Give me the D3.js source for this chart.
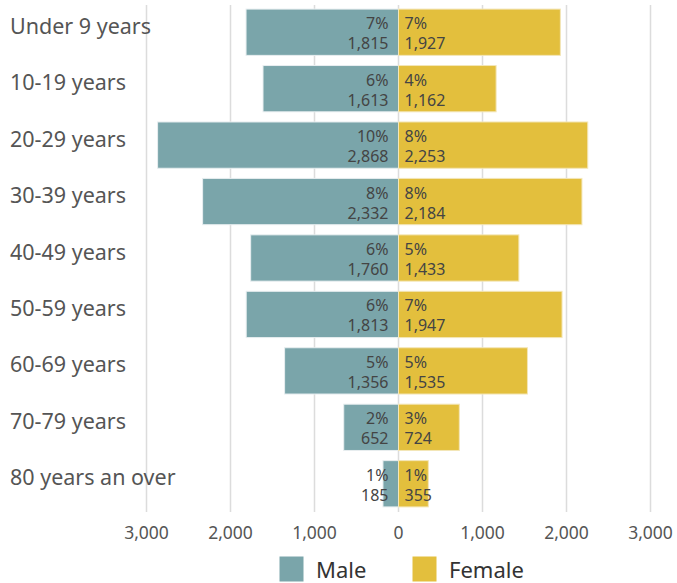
<!DOCTYPE html>
<html>
<head>
<meta charset="utf-8">
<script src="https://cdn.jsdelivr.net/npm/d3@7"></script>
<style>
  body { margin: 0; background: #fff; }
  svg { font-family: "Noto Sans", sans-serif; }
</style>
</head>
<body>
<svg id="vis" width="677" height="583"></svg>
<script>
var ageGroups = ["Under 9 years", "10-19 years", "20-29 years", "30-39 years", "40-49 years",
                 "50-59 years", "60-69 years", "70-79 years", "80 years an over"];
var male   = [1815, 1613, 2868, 2332, 1760, 1813, 1356, 652, 185];
var female = [1927, 1162, 2253, 2184, 1433, 1947, 1535, 724, 355];
var tickValues = [-3000, -2000, -1000, 0, 1000, 2000, 3000];
var seriesNames = ["Male", "Female"];
var colors = ["#7aa5aa", "#e3bf3d"];

var total = d3.sum(male) + d3.sum(female);
var fmt = d3.format(",");

var svg = d3.select("#vis");

var x = d3.scaleLinear()
    .domain([-3000, 3000])
    .range([146.5, 650.5]);

var y = d3.scaleBand()
    .domain(ageGroups)
    .range([4, 512])
    .paddingInner(0.18)
    .paddingOuter(0.09);

// gridlines
svg.append("g").selectAll("line")
    .data(tickValues)
    .enter().append("line")
    .attr("x1", function(d) {return x(d);})
    .attr("x2", function(d) {return x(d);})
    .attr("y1", 5)
    .attr("y2", 512)
    .attr("stroke", "#dcdcdc")
    .attr("stroke-width", 1.5);

// axis labels
svg.append("g").selectAll("text")
    .data(tickValues)
    .enter().append("text")
    .text(function(d) {return fmt(Math.abs(d));})
    .attr("x", function(d) {return x(d);})
    .attr("y", 539)
    .attr("text-anchor", "middle")
    .attr("font-size", 17.5)
    .attr("fill", "#555");

// bars
var rows = ageGroups.map(function(g, i) {return {group: g, m: male[i], f: female[i]};});

svg.append("g").selectAll("rect")
    .data(rows)
    .enter().append("rect")
    .attr("x", function(d) {return x(-d.m);})
    .attr("y", function(d) {return y(d.group);})
    .attr("width", function(d) {return x(0) - x(-d.m);})
    .attr("height", y.bandwidth())
    .attr("fill", colors[0])
    .attr("stroke", "#e8eef0")
    .attr("stroke-width", 1);

svg.append("g").selectAll("rect")
    .data(rows)
    .enter().append("rect")
    .attr("x", x(0))
    .attr("y", function(d) {return y(d.group);})
    .attr("width", function(d) {return x(d.f) - x(0);})
    .attr("height", y.bandwidth())
    .attr("fill", colors[1])
    .attr("stroke", "#f3e6b8")
    .attr("stroke-width", 1);

// category labels
svg.append("g").selectAll("text")
    .data(rows)
    .enter().append("text")
    .text(function(d) {return d.group;})
    .attr("x", 10)
    .attr("y", function(d) {return y(d.group) + y.bandwidth() / 2 - 6;})
    .attr("dy", ".35em")
    .attr("font-size", 21.5)
    .attr("fill", "#555");

// value labels
function addLabels(key, xPos, anchor) {
    var g = svg.append("g");
    g.selectAll(".pct")
        .data(rows)
        .enter().append("text")
        .text(function(d) {return Math.round(d[key] / total * 100) + "%";})
        .attr("x", xPos)
        .attr("y", function(d) {return y(d.group) + y.bandwidth() / 2 - 3;})
        .attr("text-anchor", anchor)
        .attr("font-size", 16)
        .attr("fill", "#444");
    g.selectAll(".val")
        .data(rows)
        .enter().append("text")
        .text(function(d) {return fmt(d[key]);})
        .attr("x", xPos)
        .attr("y", function(d) {return y(d.group) + y.bandwidth() / 2 + 17;})
        .attr("text-anchor", anchor)
        .attr("font-size", 16)
        .attr("fill", "#444");
}
addLabels("m", x(0) - 10, "end");
addLabels("f", x(0) + 6, "start");

// legend
var legend = svg.append("g");
var legendX = [279, 412];
seriesNames.forEach(function(name, i) {
    legend.append("rect")
        .attr("x", legendX[i])
        .attr("y", 556)
        .attr("width", 25)
        .attr("height", 26)
        .attr("fill", colors[i])
        .attr("stroke", "#fff");
    legend.append("text")
        .text(name)
        .attr("x", legendX[i] + 37)
        .attr("y", 578)
        .attr("font-size", 22)
        .attr("fill", "#333");
});
</script>
</body>
</html>
